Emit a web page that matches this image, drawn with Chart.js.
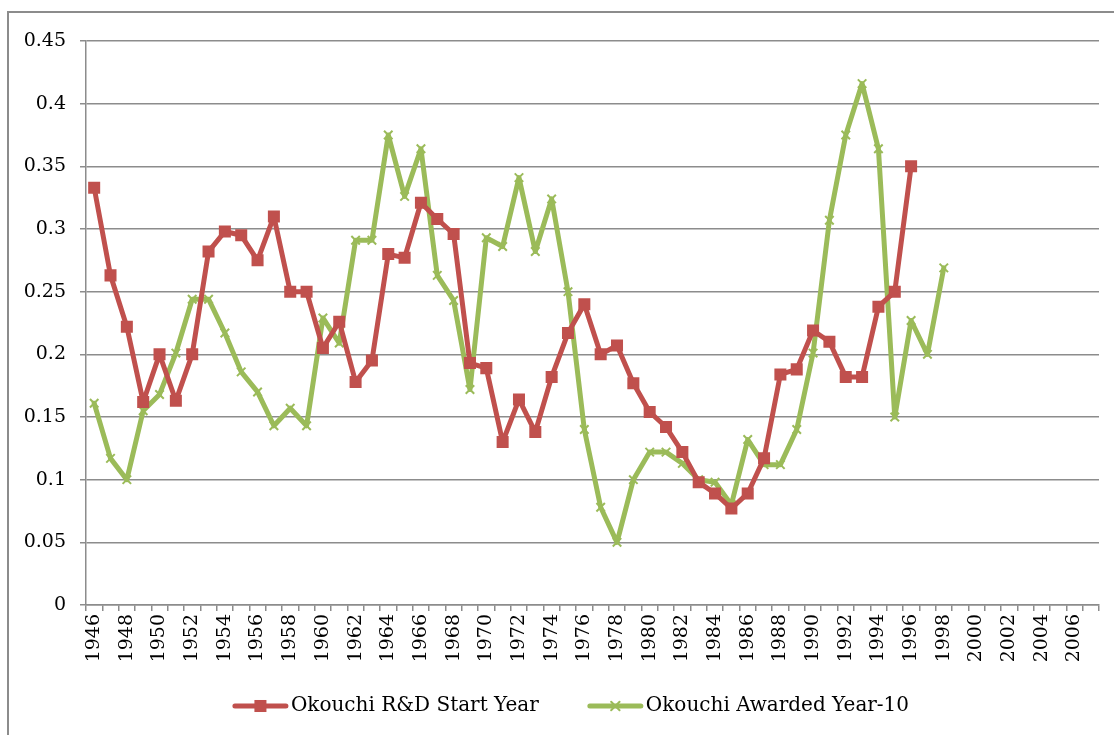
<!DOCTYPE html>
<html>
<head>
<meta charset="utf-8">
<script src="https://cdn.jsdelivr.net/npm/chart.js@4/dist/chart.umd.min.js"></script>
<style>
  html, body { margin: 0; padding: 0; background: #fff; overflow: hidden; }
  #frame { position: absolute; left: 7px; top: 11px; width: 1200px; height: 800px; border: 2px solid #8c8c8c; }
  #wrap { position: absolute; left: 0; top: 0; width: 1114px; height: 735px; }
</style>
</head>
<body>
<div id="frame"></div>
<div id="wrap"><canvas id="myChart"></canvas></div>
<script>
var years = [];
for (var yr = 1946; yr <= 2007; yr++) years.push(String(yr));

// Okouchi R&D Start Year, 1946..1996
var rdStart = [0.333, 0.263, 0.222, 0.162, 0.200, 0.163, 0.200, 0.282, 0.298, 0.295,
  0.275, 0.310, 0.250, 0.250, 0.205, 0.226, 0.178, 0.195, 0.280, 0.277,
  0.321, 0.308, 0.296, 0.193, 0.189, 0.130, 0.164, 0.138, 0.182, 0.217,
  0.240, 0.200, 0.207, 0.177, 0.154, 0.142, 0.122, 0.098, 0.089, 0.077,
  0.089, 0.117, 0.184, 0.188, 0.219, 0.210, 0.182, 0.182, 0.238, 0.250,
  0.350];

// Okouchi Awarded Year-10, 1946..1998
var awardedMinus10 = [0.161, 0.117, 0.100, 0.155, 0.168, 0.201, 0.244, 0.244, 0.217, 0.186,
  0.170, 0.143, 0.157, 0.143, 0.229, 0.209, 0.291, 0.291, 0.375, 0.326,
  0.364, 0.263, 0.243, 0.172, 0.293, 0.286, 0.341, 0.282, 0.324, 0.250,
  0.140, 0.078, 0.050, 0.100, 0.122, 0.122, 0.113, 0.100, 0.098, 0.080,
  0.132, 0.112, 0.112, 0.140, 0.201, 0.307, 0.375, 0.416, 0.364, 0.150,
  0.227, 0.200, 0.269];

var seriesNames = ["Okouchi R&D Start Year", "Okouchi Awarded Year-10"];
var yTicks = [0, 0.05, 0.1, 0.15, 0.2, 0.25, 0.3, 0.35, 0.4, 0.45];

var red = "#C0504D";
var green = "#9BBB59";
var gridGray = "#8c8c8c";
var serif = "'DejaVu Serif', serif";

// legend drawn under the plot: line with marker, then label
var legendPlugin = {
  id: "bottomLegend",
  afterDraw: function(chart) {
    var ctx = chart.ctx;
    var y = 706;
    ctx.save();
    ctx.font = "20px " + serif;
    ctx.textBaseline = "middle";
    var lineLen = 55, gapText = 3, gapItem = 49;
    var total = 0;
    chart.data.datasets.forEach(function(ds, i) {
      total += lineLen + gapText + ctx.measureText(ds.label).width;
      if (i > 0) total += gapItem;
    });
    var x = 571 - total / 2;
    chart.data.datasets.forEach(function(ds, i) {
      var cx = x + lineLen / 2;
      ctx.strokeStyle = ds.borderColor;
      ctx.lineWidth = 5;
      ctx.lineCap = "round";
      ctx.beginPath();
      ctx.moveTo(x + 2, y);
      ctx.lineTo(x + lineLen - 2, y);
      ctx.stroke();
      if (ds.pointStyle === "rect") {
        ctx.fillStyle = ds.pointBackgroundColor;
        var s = ds.pointRadius * Math.SQRT1_2;
        ctx.fillRect(cx - s, y - s, 2 * s, 2 * s);
      } else {
        ctx.strokeStyle = ds.pointBorderColor;
        ctx.lineWidth = ds.pointBorderWidth;
        var r = ds.pointRadius * 0.7;
        ctx.beginPath();
        ctx.moveTo(cx - r, y - r); ctx.lineTo(cx + r, y + r);
        ctx.moveTo(cx - r, y + r); ctx.lineTo(cx + r, y - r);
        ctx.stroke();
      }
      ctx.fillStyle = "#000";
      ctx.fillText(ds.label, x + lineLen + gapText, y);
      x += lineLen + gapText + ctx.measureText(ds.label).width + gapItem;
    });
    ctx.restore();
  }
};

new Chart("myChart", {
  type: "line",
  data: {
    labels: years,
    datasets: [{
      label: seriesNames[0],
      data: rdStart,
      borderColor: red,
      backgroundColor: red,
      borderWidth: 5,
      borderJoinStyle: "round",
      borderCapStyle: "round",
      pointStyle: "rect",
      pointRadius: 8.5,
      pointHoverRadius: 8.5,
      pointBackgroundColor: red,
      pointBorderColor: red,
      pointBorderWidth: 0,
      tension: 0
    }, {
      label: seriesNames[1],
      data: awardedMinus10,
      borderColor: green,
      backgroundColor: green,
      borderWidth: 5,
      borderJoinStyle: "round",
      borderCapStyle: "round",
      pointStyle: "crossRot",
      pointRadius: 6,
      pointHoverRadius: 6,
      pointBackgroundColor: green,
      pointBorderColor: green,
      pointBorderWidth: 2,
      tension: 0
    }]
  },
  options: {
    responsive: true,
    maintainAspectRatio: false,
    animation: false,
    layout: { padding: { left: 0, top: 41, right: 15, bottom: 0 } },
    plugins: {
      legend: { display: false },
      tooltip: { enabled: false }
    },
    scales: {
      x: {
        type: "category",
        offset: true,
        grid: {
          display: true,
          offset: true,
          drawOnChartArea: false,
          drawTicks: true,
          tickLength: 6,
          color: gridGray,
          lineWidth: 1.5
        },
        border: { display: true, color: gridGray, width: 1.5 },
        ticks: {
          autoSkip: false,
          minRotation: 90,
          maxRotation: 90,
          padding: 3,
          color: "#000",
          font: { family: serif, size: 19 },
          callback: function(val, idx) {
            return idx % 2 === 0 ? this.getLabelForValue(val) : "";
          }
        },
        afterFit: function(scale) {
          scale.height = 130;
          scale.paddingLeft = 0;
          scale.paddingRight = 0;
        }
      },
      y: {
        min: 0,
        max: 0.45,
        afterBuildTicks: function(scale) {
          scale.ticks = yTicks.map(function(v) { return { value: v }; });
        },
        grid: {
          color: gridGray,
          lineWidth: 1.5,
          drawTicks: true,
          tickLength: 6
        },
        border: { display: true, color: gridGray, width: 1.5 },
        ticks: {
          padding: 14,
          color: "#000",
          font: { family: serif, size: 19 },
          callback: function(v) { return String(+Number(v).toFixed(2)); }
        },
        afterFit: function(scale) { scale.width = 86; }
      }
    }
  },
  plugins: [legendPlugin]
});
</script>
</body>
</html>
